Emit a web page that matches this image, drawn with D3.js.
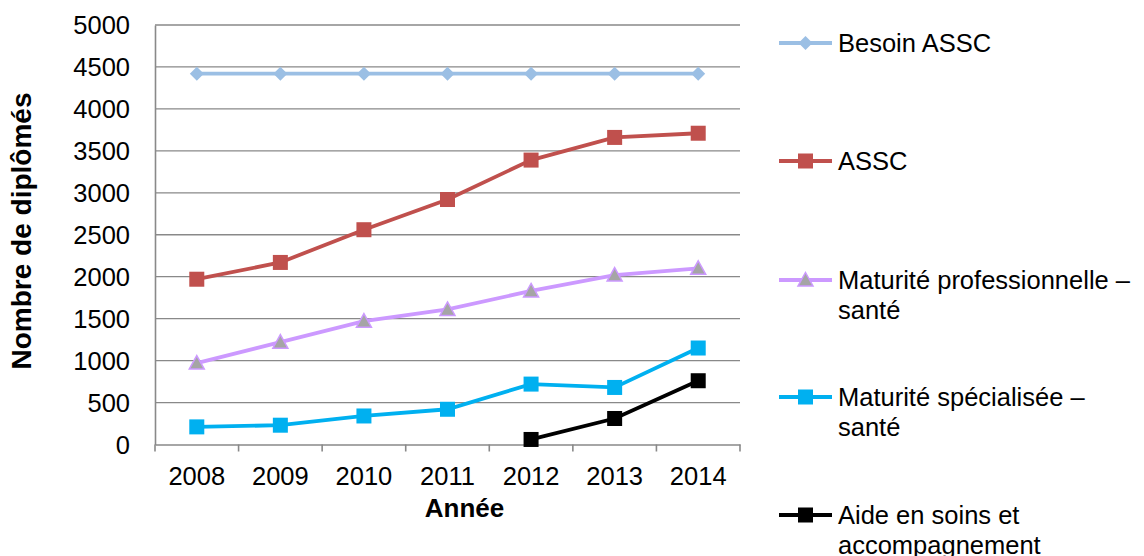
<!DOCTYPE html>
<html>
<head>
<meta charset="utf-8">
<script src="https://cdn.jsdelivr.net/npm/d3@7"></script>
<style>
  body { margin: 0; background: #fff; }
  svg text { font-family: "Liberation Sans", Arial, sans-serif; fill: #000; }
</style>
</head>
<body>
<svg width="1144" height="556"></svg>
<script>
// data
const years = ["2008", "2009", "2010", "2011", "2012", "2013", "2014"];
const besoinAssc = [4420, 4420, 4420, 4420, 4420, 4420, 4420];
const assc = [1970, 2170, 2560, 2920, 3390, 3660, 3710];
const maturitePro = [970, 1220, 1470, 1610, 1830, 2020, 2100];
const maturiteSpec = [210, 230, 340, 420, 720, 680, 1150];
const aideSoins = [null, null, null, null, 60, 310, 760];
const yTicks = [0, 500, 1000, 1500, 2000, 2500, 3000, 3500, 4000, 4500, 5000];

const series = [
  { name: ["Besoin ASSC"], values: besoinAssc, color: "#9BBFE4", marker: "diamond" },
  { name: ["ASSC"], values: assc, color: "#C0504D", marker: "square" },
  { name: ["Maturité professionnelle –", "santé"], values: maturitePro, color: "#CC99FF", marker: "triangle" },
  { name: ["Maturité spécialisée –", "santé"], values: maturiteSpec, color: "#00B0F0", marker: "square" },
  { name: ["Aide en soins et", "accompagnement"], values: aideSoins, color: "#000000", marker: "square" }
];

const svg = d3.select("svg");
const plotLeft = 155, plotRight = 740, plotTop = 25, plotBottom = 444.5;
const fontSize = "25.5px";

const x = d3.scaleBand().domain(years).range([plotLeft, plotRight]);
const y = d3.scaleLinear().domain([0, 5000]).range([plotBottom, plotTop]);

// gridlines
svg.append("g")
  .selectAll("line")
  .data(yTicks.slice(1))
  .enter()
  .append("line")
  .attr("x1", plotLeft).attr("x2", plotRight)
  .attr("y1", d => y(d)).attr("y2", d => y(d))
  .attr("stroke", "#898989").attr("stroke-width", 1.3);

// y axis
const yAxis = svg.append("g")
  .attr("transform", `translate(${plotLeft},0)`)
  .call(d3.axisLeft(y).tickValues(yTicks).tickFormat(d3.format("d")).tickSize(0).tickPadding(25));
yAxis.select(".domain").attr("stroke", "#898989").attr("stroke-width", 1.6);
yAxis.selectAll("text").style("font-size", fontSize).attr("dy", "0.35em");

// x axis
const xAxis = svg.append("g")
  .attr("transform", `translate(0,${plotBottom})`)
  .call(d3.axisBottom(x).tickSize(0).tickPadding(22));
xAxis.select(".domain").attr("stroke", "#898989").attr("stroke-width", 1.6);
xAxis.selectAll("text").style("font-size", fontSize);

// tick marks between the categories
svg.append("g")
  .selectAll("line")
  .data(d3.range(years.length + 1))
  .enter()
  .append("line")
  .attr("x1", i => plotLeft + i * x.step()).attr("x2", i => plotLeft + i * x.step())
  .attr("y1", plotBottom).attr("y2", plotBottom + 7)
  .attr("stroke", "#898989").attr("stroke-width", 1.6);

// axis titles
svg.append("text")
  .attr("x", 464.5).attr("y", 517)
  .attr("text-anchor", "middle")
  .style("font-size", "26px").style("font-weight", "bold")
  .text("Année");

svg.append("text")
  .attr("transform", "translate(31,231) rotate(-90)")
  .attr("text-anchor", "middle")
  .style("font-size", "28px").style("font-weight", "bold")
  .text("Nombre de diplômés");

function drawMarker(g, type, color, cx, cy) {
  if (type === "diamond") {
    g.append("path")
      .attr("d", `M${cx},${cy - 7}L${cx + 7},${cy}L${cx},${cy + 7}L${cx - 7},${cy}Z`)
      .attr("fill", color);
  } else if (type === "square") {
    g.append("rect")
      .attr("x", cx - 7.5).attr("y", cy - 7.5)
      .attr("width", 15).attr("height", 15)
      .attr("fill", color);
  } else {
    g.append("path")
      .attr("d", `M${cx},${cy - 7.5}L${cx + 7.5},${cy + 6}L${cx - 7.5},${cy + 6}Z`)
      .attr("fill", "#A5A5A5").attr("stroke", color).attr("stroke-width", 1.5);
  }
}

const line = d3.line()
  .defined(d => d != null)
  .x((d, i) => x(years[i]) + x.bandwidth() / 2)
  .y(d => y(d));

series.forEach(s => {
  const g = svg.append("g");
  g.append("path")
    .datum(s.values)
    .attr("d", line)
    .attr("fill", "none")
    .attr("stroke", s.color)
    .attr("stroke-width", 3.8);
  s.values.forEach((v, i) => {
    if (v == null) return;
    drawMarker(g, s.marker, s.color, x(years[i]) + x.bandwidth() / 2, y(v));
  });
});

// legend
const legendY = [43, 161, 280, 397, 515];
series.forEach((s, i) => {
  const g = svg.append("g");
  const ly = legendY[i];
  g.append("line")
    .attr("x1", 779).attr("x2", 832)
    .attr("y1", ly).attr("y2", ly)
    .attr("stroke", s.color).attr("stroke-width", 3.8);
  drawMarker(g, s.marker, s.color, 805.5, ly);
  s.name.forEach((t, j) => {
    g.append("text")
      .attr("x", 838).attr("y", ly + j * 30)
      .attr("dy", "0.35em")
      .style("font-size", fontSize)
      .text(t);
  });
});
</script>
</body>
</html>
